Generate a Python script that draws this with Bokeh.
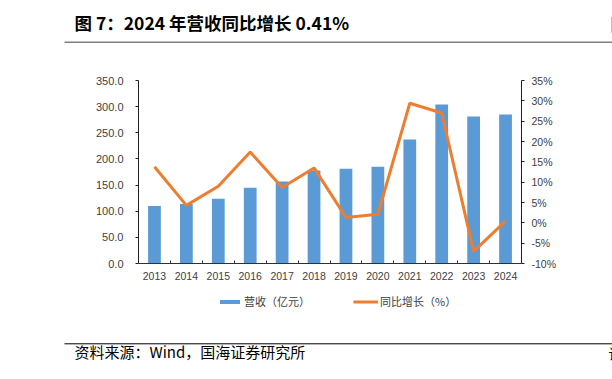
from bokeh.plotting import figure
from bokeh.models import (Range1d, LinearAxis, FixedTicker, PrintfTickFormatter,
                          Legend, LegendItem, ColumnDataSource)
from bokeh.core.properties import value
from bokeh.embed import file_html
from bokeh.resources import INLINE

years = [2013, 2014, 2015, 2016, 2017, 2018, 2019, 2020, 2021, 2022, 2023, 2024]
revenue = [110, 114, 124, 145, 157, 178, 181, 185, 237, 304, 281, 285]
growth = [13.8, 4.3, 9.0, 17.4, 8.7, 13.5, 1.3, 2.1, 29.4, 27.0, -7.0, 0.41]
left_ticks = [0, 50, 100, 150, 200, 250, 300, 350]
right_ticks = [-10, -5, 0, 5, 10, 15, 20, 25, 30, 35]
title_text = "图 7：2024 年营收同比增长 0.41%"
source_text = "资料来源：Wind，国海证券研究所"
bar_name = "营收（亿元）"
line_name = "同比增长（%）"

BLUE = "#5B9BD5"
ORANGE = "#ED7D31"
CJK = "Noto Sans CJK SC"
LAT = "Liberation Sans"
W, H = 612, 379

src = ColumnDataSource(dict(x=years, rev=revenue, g=growth))

# ---------- page layer: title, rules, source, legend ----------
deco = figure(width=W, height=H, output_backend="svg", toolbar_location=None,
              x_range=Range1d(0, W), y_range=Range1d(H, 0),
              x_axis_location=None, y_axis_location=None,
              min_border=0, min_border_left=0, min_border_right=0,
              min_border_top=0, min_border_bottom=0)
deco.outline_line_color = None
deco.xgrid.grid_line_color = None
deco.ygrid.grid_line_color = None

deco.text(x=[74], y=[22], text=[title_text], text_baseline="middle",
          text_font=value(CJK), text_font_size="17.5px", text_font_style="bold",
          text_color="#000000")
deco.text(x=[610], y=[23], text=["图"], text_baseline="middle",
          text_font=value(CJK), text_font_size="17.5px", text_font_style="bold",
          text_color="#000000")
deco.segment(x0=[64], y0=[41.7], x1=[W], y1=[41.7], line_color="#808080", line_width=1.5)
deco.segment(x0=[64], y0=[343.3], x1=[W], y1=[343.3], line_color="#000000", line_width=1)
deco.text(x=[74], y=[351], text=[source_text], text_baseline="middle",
          text_font=value(CJK), text_font_size="15px", text_color="#000000")
deco.text(x=[608], y=[352], text=["请"], text_baseline="middle",
          text_font=value(CJK), text_font_size="14px", text_color="#000000")

# legend keys: same series, falling outside this layer's page coordinates
proxy_bar = deco.vbar(x="x", top="rev", width=0.4, source=src, fill_color=BLUE, line_color=None)
proxy_line = deco.line(x="x", y="g", source=src, line_color=ORANGE, line_width=3)
legend = Legend(items=[LegendItem(label=bar_name, renderers=[proxy_bar]),
                       LegendItem(label=line_name, renderers=[proxy_line])],
                orientation="horizontal", location=(217, 68),
                glyph_width=25, glyph_height=5, label_standoff=2, spacing=43,
                padding=0, margin=0, border_line_color=None, background_fill_alpha=0,
                label_text_font=CJK, label_text_font_size="11px",
                label_text_color="#404040", label_height=20)
deco.add_layout(legend, "center")

# ---------- chart layer ----------
p = figure(width=W, height=H, output_backend="svg", toolbar_location=None,
           x_range=Range1d(years[0] - 0.5, years[-1] + 0.5),
           y_range=Range1d(left_ticks[0], left_ticks[-1]),
           min_border_left=138, min_border_right=91, min_border_top=80,
           min_border_bottom=116,
           styles={"position": "absolute", "left": "0px", "top": "0px"})
p.background_fill_alpha = 0
p.border_fill_alpha = 0
p.outline_line_color = None
p.xgrid.grid_line_color = None
p.ygrid.grid_line_color = None
p.extra_y_ranges = {"pct": Range1d(right_ticks[0], right_ticks[-1])}

p.vbar(x="x", top="rev", width=0.4, source=src, fill_color=BLUE, line_color=None)
p.line(x="x", y="g", source=src, y_range_name="pct", line_color=ORANGE, line_width=3)

xa = p.xaxis[0]
xa.ticker = FixedTicker(ticks=years, minor_ticks=[y + 0.5 for y in years[:-1]])
xa.formatter = PrintfTickFormatter(format="%d")
xa.major_tick_line_color = None
xa.major_tick_out = 0
xa.major_tick_in = 0
xa.minor_tick_out = 0
xa.minor_tick_in = 3
xa.minor_tick_line_color = "#303030"
xa.axis_line_color = "#303030"
xa.major_label_text_font = LAT
xa.major_label_text_font_size = "10.5px"
xa.major_label_text_color = "#404040"
xa.major_label_standoff = 8

ya = p.yaxis[0]
ya.ticker = FixedTicker(ticks=left_ticks, minor_ticks=[])
ya.formatter = PrintfTickFormatter(format="%.1f")
ya.major_tick_out = 3
ya.major_tick_in = 0
ya.axis_line_color = "#202020"
ya.major_tick_line_color = "#202020"
ya.major_label_text_font = LAT
ya.major_label_text_font_size = "11px"
ya.major_label_text_color = "#404040"
ya.major_label_standoff = 12

ra = LinearAxis(y_range_name="pct", ticker=FixedTicker(ticks=right_ticks, minor_ticks=[]),
                formatter=PrintfTickFormatter(format="%d%%"))
ra.major_tick_out = 3
ra.major_tick_in = 0
ra.axis_line_color = "#202020"
ra.major_tick_line_color = "#202020"
ra.major_label_text_font = LAT
ra.major_label_text_font_size = "10.5px"
ra.major_label_text_color = "#404040"
ra.major_label_standoff = 7
p.add_layout(ra, "right")

open("out.html", "w").write(file_html([deco, p], INLINE))
